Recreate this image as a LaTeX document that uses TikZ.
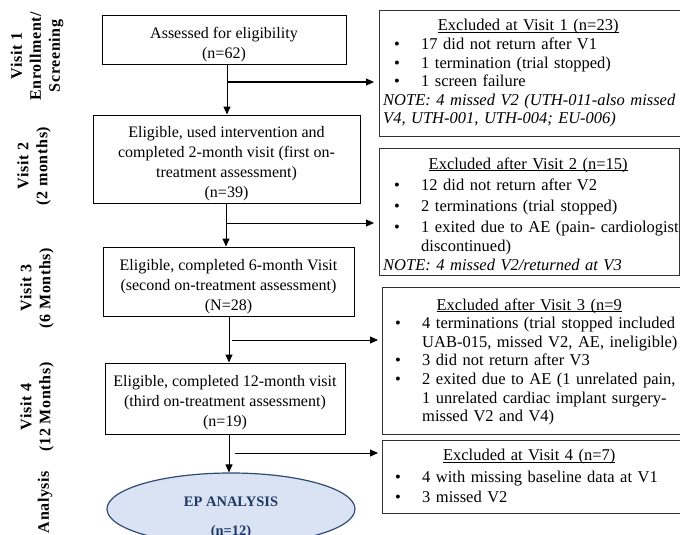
\documentclass[tikz,border=0pt]{standalone}
\usepackage{fontspec}
\setmainfont{Liberation Serif}
\newfontfamily\lblfont[LetterSpace=4]{Liberation Serif}
\usetikzlibrary{arrows.meta,shapes.geometric}
\definecolor{epfill}{HTML}{DAE3F3}
\definecolor{epline}{HTML}{2F4A75}
\definecolor{eptext}{HTML}{1F3864}
\newsavebox\ulbox
\newcommand\myul[1]{\sbox\ulbox{#1}\rlap{\rule[-2.2pt]{\wd\ulbox}{0.9pt}}\usebox\ulbox}
\newcommand\bul{\hspace*{11pt}\makebox[27pt][l]{\textbullet}}
\newcommand\cnt{\hspace*{38pt}}
\newcommand\rtitle[1]{\makebox[290pt][c]{\myul{#1}}}
\begin{document}
\begin{tikzpicture}[x=1pt,y=-1pt,
  lbox/.style={draw=black, line width=1pt, inner sep=0pt},
  ltext/.style={align=center, inner sep=0pt, font=\fontsize{16}{20}\selectfont},
  rbox/.style={draw=black!80, line width=1.3pt, anchor=north west, inner sep=0pt},
  rtext/.style={anchor=north west, inner sep=0pt, text width=320pt, align=left, font=\fontsize{16.5}{18.6}\selectfont},
  lbl/.style={rotate=90, align=center, inner sep=0pt, font=\lblfont\bfseries\fontsize{16}{19}\selectfont},
  arr/.style={-{Triangle[length=8pt,width=7pt]}, line width=1pt},
  ]
\useasboundingbox (0,0) rectangle (680,535);
\clip (0,0) rectangle (680,535);

% phase labels
\node[lbl] (l1) at (37,56) {Visit 1\\Enrollment/\\Screening};
\node[lbl] (l2) at (34,166) {Visit 2\\(2 months)};
\node[lbl] (l3) at (37,288) {Visit 3\\(6 Months)};
\node[lbl] (l4) at (37,407) {Visit 4\\(12 Months)};
\node[lbl] (l5) at (45,502) {Analysis};

% main flow boxes
\node[lbox, minimum width=244pt, minimum height=49pt] (b1) at (224,40.5) {};
\node[ltext] (b1t) at (224,45) {Assessed for eligibility\\(n=62)};
\node[lbox, minimum width=267pt, minimum height=88pt] (b2) at (226.5,159) {};
\node[ltext] (b2t) at (226.5,164) {Eligible, used intervention and\\completed 2-month visit (first on-\\treatment assessment)\\(n=39)};
\node[lbox, minimum width=251pt, minimum height=69pt] (b3) at (228.5,281.5) {};
\node[ltext] (b3t) at (228.5,286.5) {Eligible, completed 6-month Visit\\(second on-treatment assessment)\\(N=28)};
\node[lbox, minimum width=240pt, minimum height=71pt] (b4) at (225,398.5) {};
\node[ltext] (b4t) at (225,403) {Eligible, completed 12-month visit\\(third on-treatment assessment)\\(n=19)};

\node[ellipse, draw=epline, fill=epfill, line width=1.2pt, minimum width=248pt, minimum height=72pt, inner sep=0pt] (ep) at (231,509) {};
\node[align=center, text=eptext, inner sep=0pt, font=\bfseries\fontsize{14.5}{29}\selectfont] (ept) at (231,518) {EP ANALYSIS\\(n=12)};

% exclusion boxes
\node[rbox, minimum width=304pt, minimum height=126pt] (r1) at (379,10) {};
\node[rbox, minimum width=300pt, minimum height=127pt] (r2) at (379,148) {};
\node[rbox, minimum width=302pt, minimum height=147pt] (r3) at (382,287) {};
\node[rbox, minimum width=302pt, minimum height=73pt] (r4) at (382,440) {};

\node[rtext] (r1t) at ([xshift=4pt,yshift=-9.2pt]r1.north west) {%
\rtitle{Excluded at Visit 1 (n=23)}\\
\bul 17 did not return after V1\\
\bul 1 termination (trial stopped)\\
\bul 1 screen failure\\
\textit{NOTE: 4 missed V2 (UTH-011-also missed}\\
\textit{V4, UTH-001, UTH-004; EU-006)}};

\node[rtext] (r2t) at ([xshift=4pt,yshift=-9.2pt]r2.north west) {%
\rtitle{Excluded after Visit 2 (n=15)}\\[3pt]
\bul 12 did not return after V2\\[2.5pt]
\bul 2 terminations (trial stopped)\\[2.5pt]
\bul 1 exited due to AE (pain- cardiologist\\
\cnt discontinued)\\
\textit{NOTE: 4 missed V2/returned at V3}};

\node[rtext] (r3t) at ([xshift=2pt,yshift=-11.2pt]r3.north west) {%
\rtitle{Excluded after Visit 3 (n=9}\\
\bul 4 terminations (trial stopped included\\
\cnt UAB-015, missed V2, AE, ineligible)\\
\bul 3 did not return after V3\\
\bul 2 exited due to AE (1 unrelated pain,\\
\cnt 1 unrelated cardiac implant surgery-\\
\cnt missed V2 and V4)};

\node[rtext] (r4t) at ([xshift=2pt,yshift=-9.2pt]r4.north west) {%
\rtitle{Excluded at Visit 4 (n=7)}\\[3pt]
\bul 4 with missing baseline data at V1\\[1.5pt]
\bul 3 missed V2};

% connectors
\coordinate (v1) at (227,0);
\coordinate (v2) at (226,0);
\coordinate (v3) at (229,0);
\coordinate (v4) at (229,0);
\coordinate (j1) at (227,82);
\coordinate (j2) at (226,223);
\coordinate (j3) at (232,340);
\coordinate (j4) at (235,453);

\draw[arr] (v1 |- b1.south) -- (v1 |- b2.north);
\draw[arr] (v2 |- b2.south) -- (v2 |- b3.north);
\draw[arr] (v3 |- b3.south) -- (v3 |- b4.north);
\draw[arr] (v4 |- b4.south) -- (v4 |- ep.north);

\draw[arr] (j1) -- ([xshift=-5pt]j1 -| r1.west);
\draw[arr] (j2) -- ([xshift=-5pt]j2 -| r2.west);
\draw[arr] (j3) -- ([xshift=-4pt]j3 -| r3.west);
\draw[arr] (j4) -- ([xshift=-4pt]j4 -| r4.west);
\end{tikzpicture}
\end{document}
